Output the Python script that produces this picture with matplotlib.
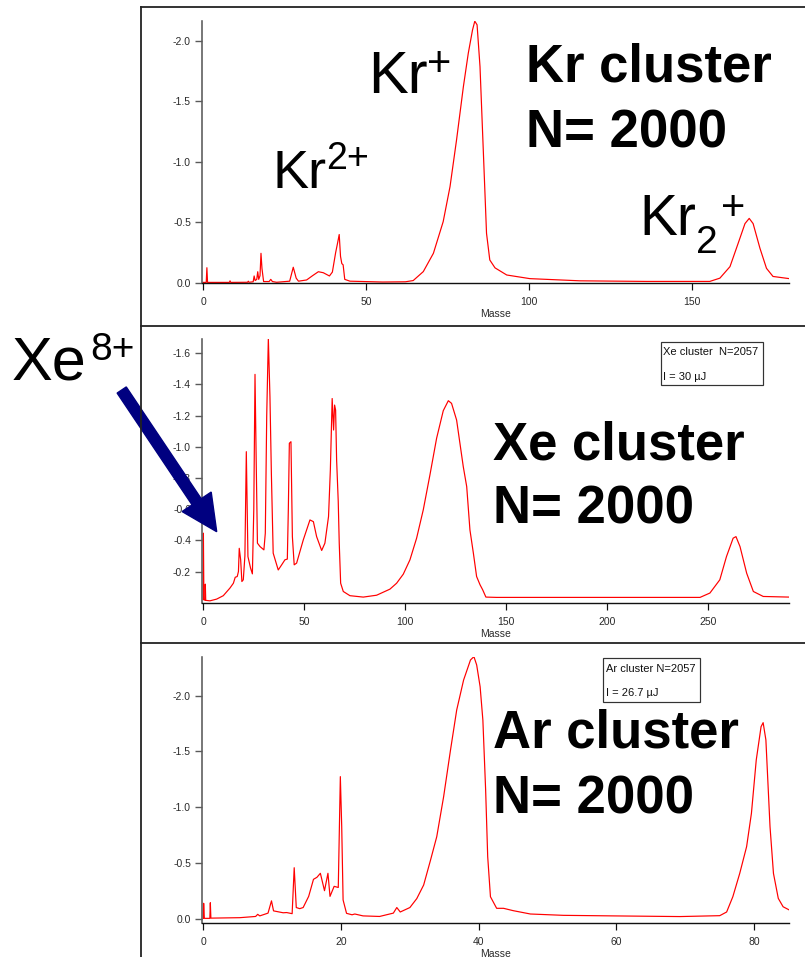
import matplotlib
matplotlib.use("Agg")
import matplotlib.pyplot as plt
from matplotlib.lines import Line2D
from matplotlib.patches import Rectangle, FancyArrow
from matplotlib.transforms import Affine2D
from matplotlib.ticker import FuncFormatter

# ---------------- spectra (mass in amu, detector signal in V) ----------------
kr_mass = [0, 0.9, 1.1, 1.3, 3, 8, 8.2, 8.4, 13.6, 13.8, 14, 15.3, 15.6, 15.9,
           16.4, 16.7, 17.0, 17.4, 17.7, 18.0, 18.5, 20.2, 20.7, 21.2, 22.5,
           26.5, 27.6, 28.5, 29.2, 31.7, 33.5, 35.3, 36.8, 38.7, 39.6, 40.6,
           41.2, 41.7, 42.1, 42.5, 42.9, 43.4, 45, 55, 62, 64.4, 67.5, 70.6,
           73.6, 75.7, 77.7, 79.8, 81.3, 82.6, 83.3, 84.0, 84.9, 85.9, 86.9,
           87.9, 89.5, 93.1, 100.2, 115.6, 136, 155.4, 158.5, 161.6, 164.1,
           166.2, 167.5, 168.7, 170.8, 172.8, 174.8, 179.8]
kr_signal = [-0.005, -0.005, -0.126, -0.005, -0.005, -0.005, -0.018, -0.005,
             -0.006, -0.015, -0.006, -0.010, -0.058, -0.020, -0.030, -0.093,
             -0.030, -0.060, -0.245, -0.120, -0.012, -0.012, -0.030, -0.012,
             -0.006, -0.015, -0.130, -0.040, -0.015, -0.025, -0.060, -0.093,
             -0.085, -0.058, -0.090, -0.250, -0.330, -0.400, -0.220, -0.160,
             -0.150, -0.030, -0.015, -0.008, -0.010, -0.020, -0.094, -0.245,
             -0.506, -0.795, -1.180, -1.620, -1.895, -2.087, -2.160, -2.130,
             -1.785, -1.100, -0.410, -0.190, -0.125, -0.066, -0.036, -0.018,
             -0.013, -0.013, -0.040, -0.135, -0.327, -0.490, -0.533, -0.490,
             -0.286, -0.121, -0.054, -0.036]

xe_mass = [0, 0.05, 0.3, 0.9, 1.0, 1.2, 3.3, 6.6, 9.9, 13.2, 14.9, 15.8, 16.8,
           17.4, 17.8, 18.5, 19.1, 19.8, 20.6, 21.3, 22.1, 23.4, 24.3, 25.0,
           25.6, 26.2, 26.8, 28.1, 30.0, 30.7, 31.4, 32.2, 33.0, 33.7, 34.6,
           37.1, 38.8, 40.4, 41.6, 42.1, 42.6, 43.4, 44.1, 45.0, 46.2, 49.5,
           52.8, 54.5, 56.1, 58.6, 60.2, 62.0, 62.9, 63.8, 64.5, 65.0, 65.5,
           66.0, 66.8, 67.3, 68.0, 69.3, 72.6, 79.2, 85.8, 92.4, 95.7, 99.0,
           102.3, 105.6, 108.9, 112.2, 115.5, 118.8, 121.3, 122.9, 125.4,
           128.7, 130.4, 132.0, 133.7, 135.3, 137.0, 138.3, 139.9, 145.2,
           245.9, 250.8, 255.7, 259.0, 262.3, 263.7, 265.7, 269.0, 272.3,
           277.2, 290]
xe_signal = [-0.020, -0.446, -0.020, -0.015, -0.119, -0.015, -0.012, -0.023,
             -0.045, -0.094, -0.125, -0.163, -0.168, -0.200, -0.349, -0.275,
             -0.136, -0.147, -0.300, -0.969, -0.296, -0.222, -0.185, -0.600,
             -1.465, -0.900, -0.382, -0.360, -0.339, -0.446, -1.200, -1.696,
             -1.320, -0.830, -0.318, -0.210, -0.243, -0.275, -0.280, -0.600,
             -1.023, -1.033, -0.424, -0.243, -0.254, -0.403, -0.531, -0.520,
             -0.424, -0.335, -0.382, -0.553, -0.852, -1.310, -1.108, -1.268,
             -1.236, -0.916, -0.651, -0.382, -0.125, -0.072, -0.045, -0.036,
             -0.048, -0.087, -0.125, -0.183, -0.275, -0.414, -0.596, -0.820,
             -1.055, -1.232, -1.296, -1.279, -1.172, -0.873, -0.745, -0.467,
             -0.318, -0.168, -0.115, -0.083, -0.036, -0.034, -0.034, -0.062,
             -0.147, -0.296, -0.414, -0.424, -0.360, -0.189, -0.072, -0.040,
             -0.036]

ar_mass = [0, 0.05, 0.15, 0.95, 1.02, 1.1, 5.3, 7.6, 7.9, 8.2, 9.4, 9.9, 10.2,
           11.6, 12.1, 12.9, 13.2, 13.5, 14.0, 14.5, 15.3, 16.0, 16.5, 17.0,
           17.6, 18.1, 18.4, 19.0, 19.6, 19.9, 20.1, 20.3, 20.8, 21.6, 22.0,
           23.2, 25.6, 27.6, 28.1, 28.6, 30.0, 31.0, 32.0, 33.0, 33.9, 34.9,
           35.9, 36.8, 37.8, 38.8, 39.3, 39.7, 40.2, 40.6, 41.0, 41.3, 41.7,
           42.6, 43.6, 45.0, 47.5, 52.3, 59.5, 69.2, 75.0, 76.0, 76.9, 77.9,
           78.9, 79.6, 80.3, 81.0, 81.3, 81.7, 82.3, 82.8, 83.5, 84.2, 85.1]
ar_signal = [-0.003, -0.138, -0.003, -0.003, -0.143, -0.005, -0.009, -0.020,
             -0.039, -0.025, -0.050, -0.160, -0.070, -0.053, -0.055, -0.045,
             -0.457, -0.100, -0.090, -0.100, -0.200, -0.353, -0.371, -0.407,
             -0.251, -0.407, -0.200, -0.290, -0.280, -1.274, -0.825, -0.168,
             -0.048, -0.035, -0.042, -0.025, -0.020, -0.050, -0.100, -0.060,
             -0.100, -0.180, -0.302, -0.526, -0.735, -1.094, -1.513, -1.872,
             -2.140, -2.320, -2.350, -2.275, -2.080, -1.780, -1.155, -0.556,
             -0.197, -0.093, -0.093, -0.072, -0.042, -0.030, -0.025, -0.019,
             -0.027, -0.060, -0.197, -0.406, -0.646, -0.945, -1.423, -1.722,
             -1.758, -1.603, -0.825, -0.406, -0.182, -0.107, -0.078]

kr_xticks = [0, 50, 100, 150]
kr_yticks = [0.0, -0.5, -1.0, -1.5, -2.0]
xe_xticks = [0, 50, 100, 150, 200, 250]
xe_yticks = [-1.6, -1.4, -1.2, -1.0, -0.8, -0.6, -0.4, -0.2]
ar_xticks = [0, 20, 40, 60, 80]
ar_yticks = [0.0, -0.5, -1.0, -1.5, -2.0]

# ---------------- figure setup ----------------
W, H, DPI = 805, 957, 100
plt.rcParams['font.family'] = ['Liberation Sans', 'DejaVu Sans']

fig = plt.figure(figsize=(W / DPI, H / DPI), dpi=DPI)
fig.patch.set_facecolor('white')
PX = Affine2D().scale(1 / W, -1 / H).translate(0, 1) + fig.transFigure
PT = 0.72  # points per pixel


def add_panel(left, top, right, bottom):
    return fig.add_axes([left / W, 1 - bottom / H, (right - left) / W,
                         (bottom - top) / H])


def style(ax, xlim, ylim, xticks, yticks):
    ax.set_xlim(*xlim)
    ax.set_ylim(*ylim)
    ax.patch.set_alpha(0)
    for s in ('top', 'right'):
        ax.spines[s].set_visible(False)
    ax.spines['left'].set_color('#5a5a5a')
    ax.spines['left'].set_linewidth(1.6 * PT)
    ax.spines['bottom'].set_color('#111111')
    ax.spines['bottom'].set_linewidth(1.4 * PT)
    ax.set_xticks(xticks)
    ax.set_yticks(yticks)
    ax.xaxis.set_major_formatter(FuncFormatter(lambda v, p: f"{v:.0f}"))
    ax.yaxis.set_major_formatter(FuncFormatter(lambda v, p: f"{v:.1f}"))
    ax.tick_params(axis='y', direction='out', length=7 * PT, width=1.4 * PT,
                   color='#5a5a5a', labelsize=7.5, labelcolor='#2a2a2a',
                   pad=4 * PT)
    ax.tick_params(axis='x', direction='out', length=7 * PT, width=1.2 * PT,
                   color='#111111', labelsize=7.5, labelcolor='#2a2a2a',
                   pad=7 * PT)
    ax.set_xlabel('Masse', fontsize=7.5, color='#2a2a2a', labelpad=2 * PT)


# panel frames
frame_kw = dict(color='#222222', linewidth=1.8 * PT, transform=PX)
fig.add_artist(Line2D([140.7, 140.7], [7, H + 2], **frame_kw))
for yy in (7, 325.5, 642.5):
    fig.add_artist(Line2D([140.7, W + 2], [yy, yy], **frame_kw))

red = '#ff0000'

# Kr panel
ax1 = add_panel(202, 20.7, 789.3, 283)
ax1.plot(kr_mass, kr_signal, color=red, linewidth=1.2 * PT)
style(ax1, (-0.4, 179.8), (0.0, -2.164), kr_xticks, kr_yticks)

# Xe panel
ax2 = add_panel(202, 339.3, 789.3, 602.7)
ax2.plot(xe_mass, xe_signal, color=red, linewidth=1.2 * PT)
style(ax2, (-0.64, 290.1), (0.0, -1.69), xe_xticks, xe_yticks)

# Ar panel
ax3 = add_panel(202, 657.3, 789.3, 922.7)
ax3.plot(ar_mass, ar_signal, color=red, linewidth=1.2 * PT)
style(ax3, (-0.19, 85.1), (0.036, -2.344), ar_xticks, ar_yticks)

# ---------------- annotations ----------------
def label(x, y, s, size, weight='normal'):
    fig.text(x, y, s, transform=PX, fontsize=size, fontweight=weight,
             ha='left', va='baseline', color='black')


# ion labels: element symbol plus raised / lowered charge and cluster size
label(368, 93, 'Kr', 43)
label(427, 76, '+', 30)

label(272, 188, 'Kr', 39)
label(326, 169, '2+', 27)

label(639, 235, 'Kr', 41)
label(696, 253, '2', 28)
label(721, 220, '+', 30)

label(12, 380, 'Xe', 44)
label(90, 360, '8+', 28)

label(526, 82, 'Kr cluster', 38, 'bold')
label(526, 147, 'N= 2000', 38, 'bold')
label(493, 460, 'Xe cluster', 38, 'bold')
label(493, 524, 'N= 2000', 38, 'bold')
label(493, 748, 'Ar cluster', 38, 'bold')
label(493, 813, 'N= 2000', 38, 'bold')


# info boxes
def info_box(x0, y0, x1, y1, lines, tx):
    fig.add_artist(Rectangle((x0, y0), x1 - x0, y1 - y0, fill=False,
                             edgecolor='#333333', linewidth=1.2 * PT,
                             transform=PX))
    ys = [y0 + 10.5, y0 + 35]
    for yy, s in zip(ys, lines):
        fig.text(tx, yy, s, transform=PX, fontsize=8, ha='left',
                 va='center', color='#111111')


info_box(660.7, 341.7, 763.3, 385, ['Xe cluster  N=2057', 'I = 30 µJ'], 662.5)
info_box(603.3, 658.3, 700, 701.7, ['Ar cluster N=2057', 'I = 26.7 µJ'], 605.5)

# arrow pointing at the Xe8+ line
x_start, y_start = 121.7, 390.0
x_tip, y_tip = 216.7, 531.7
fig.add_artist(FancyArrow(x_start, y_start, x_tip - x_start, y_tip - y_start,
                          width=11, head_width=35, head_length=36,
                          length_includes_head=True, color='#000080',
                          transform=PX))

fig.savefig('out.png', dpi=DPI, facecolor='white')
